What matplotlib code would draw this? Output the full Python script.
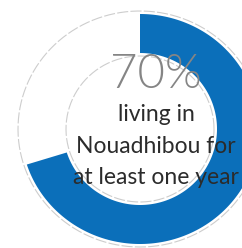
import numpy as np
import matplotlib
matplotlib.use("Agg")
import matplotlib.pyplot as plt

# data
share_pct = 70
big_label = "70%"
label_lines = ["living in", "Nouadhibou for", "at least one year"]

BLUE = "#0b6fba"
GRAY_TXT = "#858585"
DARK_TXT = "#2b2b2b"
TRACK = "#cdcdcd"

W, H = 242, 248
fig = plt.figure(figsize=(W / 100, H / 100), dpi=100)
ax = fig.add_axes([0, 0, 1, 1])
ax.set_xlim(0, W)
ax.set_ylim(H, 0)
ax.axis("off")

cx, cy = 140, 129

def ellipse_pts(rx, ry, t):
    r = np.deg2rad(t)
    return cx + rx * np.cos(r), cy - ry * np.sin(r)

# background track outlines (dashed)
t_full = np.linspace(0, 360, 400)
for rx, ry in [(122, 118), (74, 73)]:
    x, y = ellipse_pts(rx, ry, t_full)
    ax.plot(x, y, color=TRACK, lw=0.8, ls=(0, (10, 2)), zorder=1)

# blue value arc, clockwise from 12 o'clock
t = np.linspace(90, 90 - 360 * share_pct / 100, 300)
xo, yo = ellipse_pts(119, 115, t)
xi, yi = ellipse_pts(77, 76, t[::-1])
ax.fill(np.concatenate([xo, xi]), np.concatenate([yo, yi]), color=BLUE, lw=0, zorder=2)

tx = 156
ax.text(tx, 88, big_label, ha="center", va="baseline", fontsize=34,
        family="Lato", weight=300, color=GRAY_TXT, zorder=3)
for yb, line in zip([121, 153, 184], label_lines):
    ax.text(tx, yb, line, ha="center", va="baseline", fontsize=16.5,
            family="Lato", color=DARK_TXT, zorder=3)

fig.savefig("out.png", dpi=100)
